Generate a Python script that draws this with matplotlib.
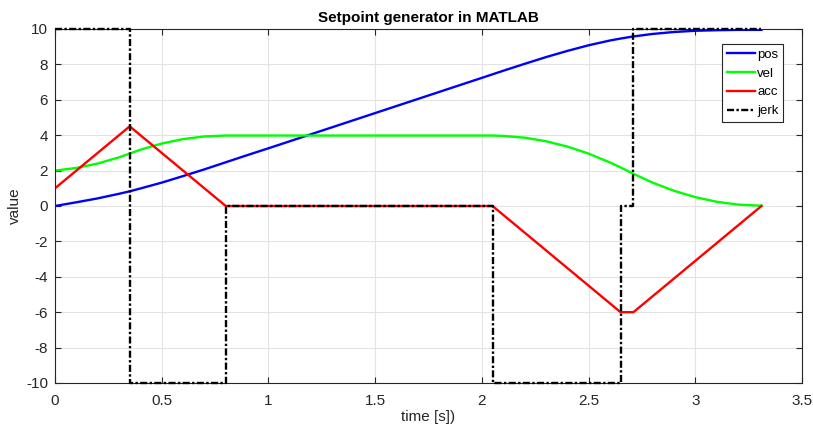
import matplotlib
matplotlib.use("Agg")
import matplotlib.pyplot as plt

plt.rcParams['font.family'] = ['Liberation Sans', 'DejaVu Sans']
plt.rcParams['axes.unicode_minus'] = False

# time samples for smooth curves (s)
t = [0.0, 0.1, 0.2, 0.3, 0.35, 0.4, 0.5, 0.6, 0.7, 0.8, 0.9, 1.0, 1.5, 2.0, 2.05,
     2.1, 2.2, 2.3, 2.4, 2.5, 2.6, 2.65, 2.7, 2.71, 2.8, 2.9, 3.0, 3.1, 3.2, 3.3, 3.31]
pos = [0.00, 0.21, 0.43, 0.69, 0.83, 0.99, 1.32, 1.69, 2.07, 2.47, 2.87, 3.26, 5.25, 7.24, 7.44,
       7.64, 8.03, 8.41, 8.76, 9.08, 9.35, 9.46, 9.56, 9.58, 9.72, 9.83, 9.90, 9.93, 9.95, 9.95, 9.95]
vel = [2.00, 2.15, 2.40, 2.75, 2.96, 3.18, 3.53, 3.78, 3.93, 3.98, 3.98, 3.98, 3.98, 3.98, 3.98,
       3.96, 3.86, 3.66, 3.36, 2.96, 2.46, 2.18, 1.88, 1.82, 1.32, 0.86, 0.50, 0.24, 0.08, 0.02, 0.02]

# piecewise-linear acceleration breakpoints
acc_t = [0.0, 0.35, 0.80, 2.05, 2.65, 2.71, 3.31]
acc = [1.0, 4.5, 0.0, 0.0, -6.0, -6.0, 0.0]

# jerk steps (value holds from each time until the next)
jerk_t = [0.0, 0.35, 0.80, 2.05, 2.65, 2.71, 3.31]
jerk = [10, -10, 0, -10, 0, 10, 10]

xticks = [0, 0.5, 1, 1.5, 2, 2.5, 3, 3.5]
xticklabels = ['0', '0.5', '1', '1.5', '2', '2.5', '3', '3.5']
yticks = [-10, -8, -6, -4, -2, 0, 2, 4, 6, 8, 10]

fig = plt.figure(figsize=(8.13, 4.29), dpi=100)
ax = fig.add_axes([55/813, 46/429, 747/813, 354/429])

ax.plot(t, pos, color=(0, 0, 1), lw=1.7, label='pos')
ax.plot(t, vel, color=(0, 1, 0), lw=1.7, label='vel')
ax.plot(acc_t, acc, color=(1, 0, 0), lw=1.7, label='acc')
ax.step(jerk_t, jerk, where='post', color='black', lw=1.7,
        dashes=(3.0, 1.0, 1.0, 1.0), label='jerk', clip_on=False, zorder=5)

ax.set_xlim(0, 3.5)
ax.set_ylim(-10, 10)
ax.set_xticks(xticks)
ax.set_xticklabels(xticklabels)
ax.set_yticks(yticks)
ax.grid(True, color='#e3e3e3', lw=0.8)
ax.set_axisbelow(True)
ax.tick_params(direction='in', top=True, right=True, labelsize=11,
               colors='#262626', length=4)
ax.tick_params(axis='x', pad=8)
ax.tick_params(axis='y', pad=5)
for s in ax.spines.values():
    s.set_color('#262626')
    s.set_linewidth(0.8)

ax.set_xlabel('time [s])', fontsize=11, color='#262626', labelpad=1)
ax.set_ylabel('value', fontsize=11, color='#262626', labelpad=3)
ax.set_title('Setpoint generator in MATLAB', fontsize=11, fontweight='bold', pad=5)

leg = ax.legend(loc='upper right', bbox_to_anchor=(0.975, 0.958), fontsize=9.5,
                frameon=True, fancybox=False, edgecolor='#262626', framealpha=1,
                handlelength=2.1, handletextpad=0.2, borderpad=0.35, labelspacing=0.5,
                borderaxespad=0)
leg.get_frame().set_linewidth(0.8)

fig.savefig('out.png', dpi=100)
